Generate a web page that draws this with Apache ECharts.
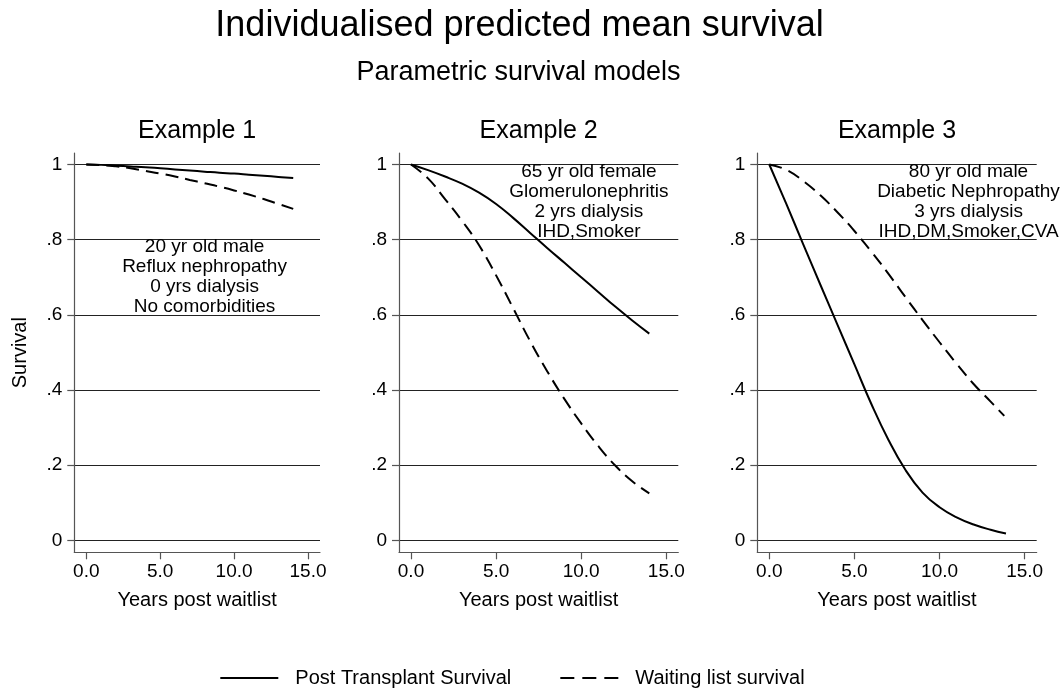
<!DOCTYPE html>
<html><head><meta charset="utf-8">
<script src="https://cdn.jsdelivr.net/npm/echarts@6/dist/echarts.min.js"></script>
<style>html,body{margin:0;padding:0;background:#fff}#c{width:1062px;height:688px}</style>
</head><body><div id="c"></div>
<script>
// ---- data ----
const chartTitle = 'Individualised predicted mean survival';
const chartSubtitle = 'Parametric survival models';
const panelTitles = ['Example 1', 'Example 2', 'Example 3'];
const seriesNames = ['Post Transplant Survival', 'Waiting list survival'];
const xAxisTitle = 'Years post waitlist';
const yAxisTitle = 'Survival';

const years12 = [0, 1, 2, 3, 4, 5, 6, 7, 8, 9, 10, 11, 12, 13, 14];
const years3Post = [0, 1, 2, 3, 4, 5, 6, 7, 8, 9, 10, 11, 12, 13, 13.9];
const years3Wait = [0, 1, 2, 3, 4, 5, 6, 7, 8, 9, 10, 11, 12, 13, 13.8];

const ex1Post = [1, 0.999, 0.997, 0.995, 0.993, 0.990, 0.987, 0.984, 0.981, 0.978, 0.976, 0.973, 0.970, 0.967, 0.964];
const ex1Wait = [1, 0.9985, 0.995, 0.990, 0.983, 0.976, 0.968, 0.959, 0.950, 0.941, 0.931, 0.920, 0.908, 0.895, 0.882];
const ex2Post = [1, 0.985, 0.968, 0.949, 0.925, 0.895, 0.858, 0.818, 0.778, 0.739, 0.700, 0.661, 0.622, 0.585, 0.550];
const ex2Wait = [1, 0.963, 0.908, 0.850, 0.785, 0.705, 0.618, 0.530, 0.450, 0.377, 0.311, 0.251, 0.199, 0.157, 0.125];
const ex3Post = [1, 0.895, 0.787, 0.680, 0.574, 0.468, 0.362, 0.267, 0.187, 0.127, 0.088, 0.061, 0.042, 0.028, 0.018];
const ex3Wait = [1, 0.986, 0.956, 0.918, 0.873, 0.823, 0.768, 0.709, 0.647, 0.586, 0.527, 0.470, 0.416, 0.369, 0.331];

const notes = [
  '20 yr old male\nReflux nephropathy\n0 yrs dialysis\nNo comorbidities',
  '65 yr old female\nGlomerulonephritis\n2 yrs dialysis\nIHD,Smoker',
  '80 yr old male\nDiabetic Nephropathy\n3 yrs dialysis\nIHD,DM,Smoker,CVA'
];
const noteX = [8, 10.45, 11.7];
const noteY = [0.7, 0.9, 0.9];

const xTicks = [0, 5, 10, 15];
const yTicks = [0, 0.2, 0.4, 0.6, 0.8, 1];

// ---- layout ----
const FONT = 'Liberation Sans, Arial, Helvetica, sans-serif';
const gridsPx = [
  { left: 74.3, width: 245.7 },
  { left: 399, width: 279.3 },
  { left: 757.3, width: 279.4 }
];
const gridTop = 153, gridHeight = 399.3;
const xPad = 12;

const panels = [
  { post: [years12, ex1Post], wait: [years12, ex1Wait] },
  { post: [years12, ex2Post], wait: [years12, ex2Wait] },
  { post: [years3Post, ex3Post], wait: [years3Wait, ex3Wait] }
];
const pairs = (xs, ys) => xs.map((x, i) => [x, ys[i]]);

const grid = [], xAxis = [], yAxis = [], series = [], titles = [];
titles.push({ text: chartTitle, left: 519.5, top: 26.5, textAlign: 'center', textVerticalAlign: 'middle', padding: 0,
  textStyle: { fontFamily: FONT, fontSize: 36, fontWeight: 'normal', color: '#000' } });
titles.push({ text: chartSubtitle, left: 518.5, top: 72.6, textAlign: 'center', textVerticalAlign: 'middle', padding: 0,
  textStyle: { fontFamily: FONT, fontSize: 27, fontWeight: 'normal', color: '#000' } });

gridsPx.forEach((g, i) => {
  grid.push({ left: g.left, top: gridTop, width: g.width, height: gridHeight, containLabel: false });
  const ppu = (g.width - 2 * xPad) / 15;
  xAxis.push({
    type: 'value', gridIndex: i, min: -xPad / ppu, max: 15 + xPad / ppu,
    axisLine: { show: true, onZero: false, lineStyle: { color: '#555', width: 1.2 } },
    axisTick: { show: true, length: 7, customValues: xTicks, lineStyle: { color: '#555', width: 1.2 } },
    axisLabel: { customValues: xTicks, margin: 10, fontFamily: FONT, fontSize: 19, color: '#000',
      formatter: v => Number(v).toFixed(1) },
    splitLine: { show: false },
    name: xAxisTitle, nameLocation: 'middle', nameGap: 38,
    nameTextStyle: { fontFamily: FONT, fontSize: 20, color: '#000' }
  });
  yAxis.push({
    type: 'value', gridIndex: i, min: -0.0319, max: 1.0306,
    axisLine: { show: true, onZero: false, lineStyle: { color: '#555', width: 1.2 } },
    axisTick: { show: true, length: 7, customValues: yTicks, lineStyle: { color: '#555', width: 1.2 } },
    axisLabel: { customValues: yTicks, margin: 12, fontFamily: FONT, fontSize: 19, color: '#000',
      formatter: v => { const n = Math.round(v * 10) / 10; return n === 0 ? '0' : n === 1 ? '1' : String(n).replace(/^0/, ''); } },
    splitLine: { show: true, lineStyle: { color: '#222', width: 1 } },
    name: i === 0 ? yAxisTitle : '', nameLocation: 'middle', nameGap: 44,
    nameTextStyle: { fontFamily: FONT, fontSize: 20, color: '#000' }
  });
  titles.push({ text: panelTitles[i], left: g.left + g.width / 2, top: 131, textAlign: 'center', textVerticalAlign: 'middle', padding: 0,
    textStyle: { fontFamily: FONT, fontSize: 25, fontWeight: 'normal', color: '#000' } });

  const p = panels[i];
  series.push({
    type: 'line', name: seriesNames[0], xAxisIndex: i, yAxisIndex: i,
    data: pairs(p.post[0], p.post[1]), smooth: 0.45, symbol: 'none', silent: true,
    lineStyle: { color: '#000', width: 2, type: 'solid' }, itemStyle: { color: '#000' }
  });
  series.push({
    type: 'line', name: seriesNames[1], xAxisIndex: i, yAxisIndex: i,
    data: pairs(p.wait[0], p.wait[1]), smooth: 0.45, symbol: 'none', silent: true,
    lineStyle: { color: '#000', width: 2, type: [13, 7] }, itemStyle: { color: '#000' }
  });
  series.push({
    type: 'scatter', name: 'note' + i, xAxisIndex: i, yAxisIndex: i, silent: true,
    data: [[noteX[i], noteY[i]]], symbolSize: 0, itemStyle: { color: '#000' },
    label: { show: true, position: 'inside', formatter: () => notes[i], fontFamily: FONT, fontSize: 19,
      lineHeight: 20, color: '#000', opacity: 1, textBorderWidth: 0, align: 'center', verticalAlign: 'middle' }
  });
});

const chart = echarts.init(document.getElementById('c'), null, { renderer: 'canvas' });
chart.setOption({
  animation: false,
  backgroundColor: '#fff',
  textStyle: { fontFamily: FONT },
  title: titles,
  grid, xAxis, yAxis, series,
  legend: {
    data: [
      { name: seriesNames[0] },
      { name: seriesNames[1], lineStyle: { type: [14, 8] } }
    ],
    left: 219.3, top: 668, padding: 0, itemWidth: 58, itemHeight: 14, itemGap: 48,
    itemStyle: { opacity: 0 },
    textStyle: { fontFamily: FONT, fontSize: 20, color: '#000', padding: [0, 0, 0, 12] },
    selectedMode: false
  }
});
</script></body></html>
